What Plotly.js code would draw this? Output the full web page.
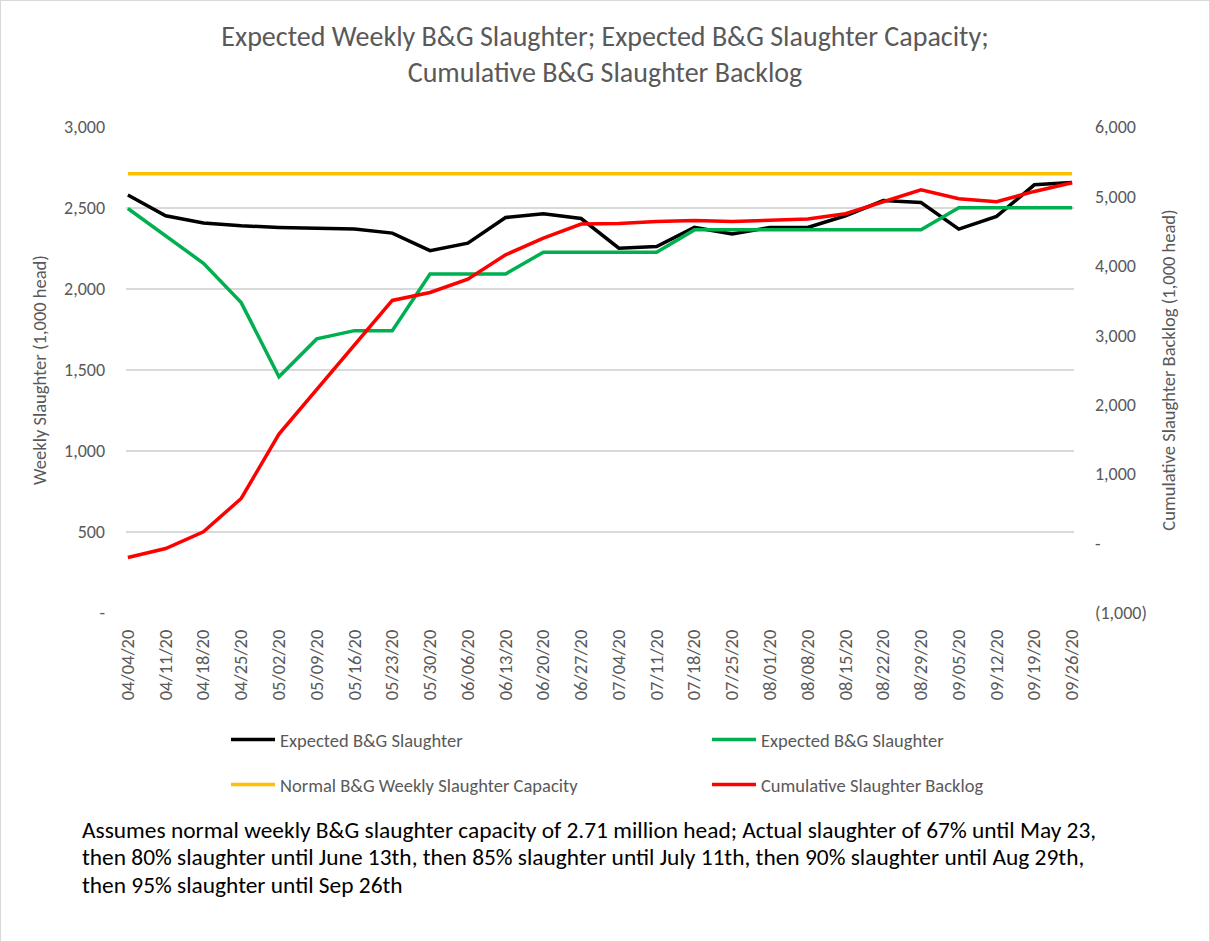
<!DOCTYPE html>
<html>
<head>
<meta charset="utf-8">
<script src="https://cdn.plot.ly/plotly-3.0.1.min.js"></script>
<style>
  html, body { margin: 0; padding: 0; background: #ffffff; }
  #chart { width: 1210px; height: 942px; box-sizing: border-box; border: 1px solid #d9d9d9; }
</style>
</head>
<body>
<div id="chart"></div>
<script>
const dates = ['04/04/20','04/11/20','04/18/20','04/25/20','05/02/20','05/09/20','05/16/20','05/23/20','05/30/20','06/06/20','06/13/20','06/20/20','06/27/20','07/04/20','07/11/20','07/18/20','07/25/20','08/01/20','08/08/20','08/15/20','08/22/20','08/29/20','09/05/20','09/12/20','09/19/20','09/26/20'];

const expectedSlaughterBlack = [2580,2452,2407,2390,2380,2376,2370,2345,2237,2283,2441,2464,2435,2252,2262,2380,2340,2380,2380,2452,2546,2534,2370,2448,2643,2658];
const expectedSlaughterGreen = [2497,2328,2159,1916,1458,1692,1743,1743,2093,2093,2093,2227,2227,2227,2227,2365,2365,2365,2365,2365,2365,2365,2501,2501,2501,2501];
const normalCapacity = [2711,2711,2711,2711,2711,2711,2711,2711,2711,2711,2711,2711,2711,2711,2711,2711,2711,2711,2711,2711,2711,2711,2711,2711,2711,2711];
const cumulativeBacklog = [-200,-71,169,650,1578,2213,2850,3502,3616,3808,4159,4400,4602,4611,4640,4654,4640,4654,4674,4750,4928,5096,4967,4924,5072,5197];

const leftTickVals = [0,500,1000,1500,2000,2500,3000];
const leftTickText = ['-','500','1,000','1,500','2,000','2,500','3,000'];
const rightTickVals = [-1000,0,1000,2000,3000,4000,5000,6000];
const rightTickText = ['(1,000)','-','1,000','2,000','3,000','4,000','5,000','6,000'];

const titleLine1 = 'Expected Weekly B&G Slaughter; Expected B&G Slaughter Capacity;';
const titleLine2 = 'Cumulative B&G Slaughter Backlog';
const footnoteLines = [
  'Assumes normal weekly B&G slaughter capacity of 2.71 million head; Actual slaughter of 67% until May 23,',
  'then 80% slaughter until June 13th, then 85% slaughter until July 11th, then 90% slaughter until Aug 29th,',
  'then 95% slaughter until Sep 26th'
];

const FONT = 'Carlito, Lato, "Open Sans", sans-serif';
const GRAY = '#595959';
const LW = 3.5;

const traces = [
  {x: dates, y: expectedSlaughterBlack, name: 'Expected B&G Slaughter', type: 'scatter', mode: 'lines',
   line: {color: '#000000', width: LW}, legend: 'legend', yaxis: 'y'},
  {x: dates, y: expectedSlaughterGreen, name: 'Expected B&G Slaughter', type: 'scatter', mode: 'lines',
   line: {color: '#00B050', width: LW}, legend: 'legend2', yaxis: 'y'},
  {x: dates, y: normalCapacity, name: 'Normal B&G Weekly Slaughter Capacity', type: 'scatter', mode: 'lines',
   line: {color: '#FFC000', width: LW}, legend: 'legend3', yaxis: 'y'},
  {x: dates, y: cumulativeBacklog, name: 'Cumulative Slaughter Backlog', type: 'scatter', mode: 'lines',
   line: {color: '#FF0000', width: LW}, legend: 'legend4', yaxis: 'y2'}
];

const W = 1208, H = 940;
function legendAt(px, py) {
  return {
    orientation: 'h', xref: 'container', yref: 'container', xanchor: 'left', yanchor: 'middle',
    x: px / W, y: 1 - py / H, itemwidth: 44,
    font: {family: FONT, size: 18.5, color: GRAY}, bgcolor: 'rgba(0,0,0,0)'
  };
}

const annotations = footnoteLines.map((t, i) => ({
  text: t, xref: 'paper', yref: 'paper', showarrow: false,
  x: (78.5 - 124.6) / 948.8, xanchor: 'left',
  y: -(829 + i * 27.5 - 1 - 611.7) / 485.4, yanchor: 'middle',
  font: {family: FONT, size: 23.4, color: '#000000'}, align: 'left'
}));

const layout = {
  width: W, height: H,
  paper_bgcolor: '#ffffff', plot_bgcolor: '#ffffff',
  margin: {l: 124.6, r: 134.6, t: 126.3, b: 328.3, pad: 0},
  font: {family: FONT, color: GRAY},
  title: {
    text: titleLine1 + '<br>' + titleLine2,
    font: {family: FONT, size: 28, color: GRAY},
    x: 0.5, xanchor: 'center', xref: 'container',
    y: 1 - 45 / H, yanchor: 'top', yref: 'container'
  },
  showlegend: true,
  legend: legendAt(225, 739),
  legend2: legendAt(706, 739),
  legend3: legendAt(225, 784),
  legend4: legendAt(706, 784),
  xaxis: {
    type: 'category', range: [-0.05, 25.05], tickangle: -90,
    tickfont: {family: FONT, size: 18.5, color: GRAY},
    showgrid: false, zeroline: false, showline: false, ticks: '',
    ticklabelstandoff: 12, automargin: false
  },
  yaxis: {
    range: [0, 3000], tickvals: leftTickVals, ticktext: leftTickText,
    tickfont: {family: FONT, size: 18, color: GRAY},
    showgrid: true, gridcolor: '#d9d9d9', gridwidth: 1.3, zeroline: false, showline: false, ticks: '',
    ticklabelstandoff: 20, automargin: false,
    title: {text: 'Weekly Slaughter (1,000 head)', font: {family: FONT, size: 18.5, color: GRAY}, standoff: 12}
  },
  yaxis2: {
    range: [-1000, 6000], tickvals: rightTickVals, ticktext: rightTickText, overlaying: 'y', side: 'right',
    tickfont: {family: FONT, size: 18, color: GRAY},
    showgrid: false, zeroline: false, showline: false, ticks: '',
    ticklabelstandoff: 20, automargin: false,
    title: {text: 'Cumulative Slaughter Backlog (1,000 head)', font: {family: FONT, size: 18.5, color: GRAY}, standoff: 16}
  },
  annotations: annotations
};

Plotly.newPlot('chart', traces, layout, {displayModeBar: false, staticPlot: true});
</script>
</body>
</html>
